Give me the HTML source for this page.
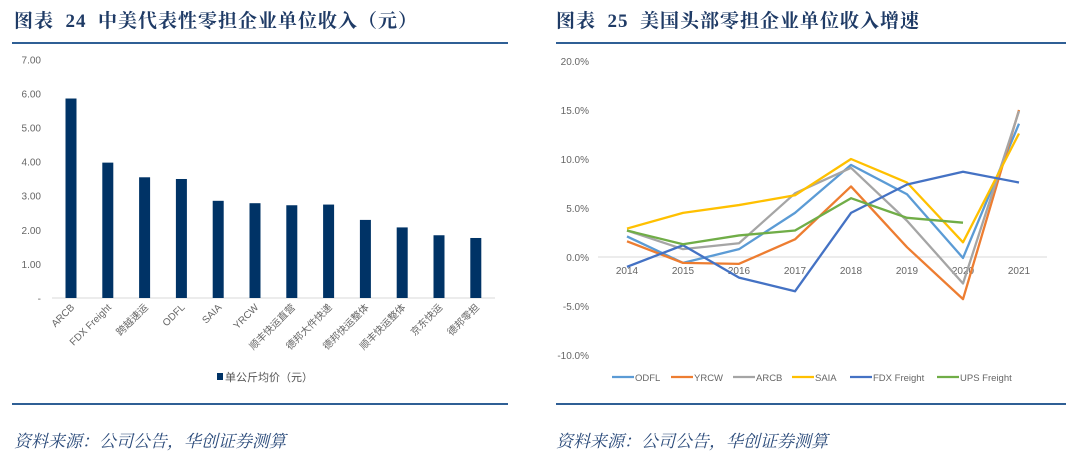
<!DOCTYPE html>
<html><head><meta charset="utf-8">
<style>
html,body{margin:0;padding:0;background:#fff;}
body{width:1080px;height:458px;overflow:hidden;position:relative;font-family:"Liberation Sans","Noto Sans CJK SC",sans-serif;}
.title{position:absolute;top:6px;font-family:"Liberation Serif","Noto Serif CJK SC",serif;font-weight:bold;font-size:19px;color:#1f3b66;white-space:pre;letter-spacing:1px;}
.rule{position:absolute;height:2px;background:#2f5f95;}
.src{position:absolute;top:427px;font-family:"Liberation Serif","Noto Serif CJK SC",serif;font-style:italic;font-size:17px;color:#2a4a7a;white-space:nowrap;}
svg{position:absolute;left:0;top:0;}
</style></head><body>
<div class="title" style="left:14px">图表  24  中美代表性零担企业单位收入（元）</div>
<div class="title" style="left:556px">图表  25  美国头部零担企业单位收入增速</div>
<div class="rule" style="left:12px;width:496px;top:42px"></div>
<div class="rule" style="left:556px;width:510px;top:42px"></div>
<div class="rule" style="left:12px;width:496px;top:403px"></div>
<div class="rule" style="left:556px;width:510px;top:403px"></div>
<div class="src" style="left:14px">资料来源：公司公告，华创证券测算</div>
<div class="src" style="left:556px">资料来源：公司公告，华创证券测算</div>
<svg id="chart" width="1080" height="458"></svg>
<script>
const barCats=["ARCB","FDX Freight","跨越速运","ODFL","SAIA","YRCW","顺丰快运直营","德邦大件快递","德邦快运整体","顺丰快运整体","京东快运","德邦零担"];
const barVals=[5.85,3.97,3.54,3.49,2.85,2.78,2.72,2.74,2.29,2.07,1.84,1.76];
const barTicks=["-","1.00","2.00","3.00","4.00","5.00","6.00","7.00"];
const years=["2014","2015","2016","2017","2018","2019","2020","2021"];
const odfl=[2.1,-0.6,0.8,4.5,9.4,6.4,-0.1,13.6];
const yrcw=[1.6,-0.6,-0.7,1.8,7.2,1.0,-4.3,15.0];
const arcb=[2.7,0.8,1.4,6.5,9.1,3.7,-2.7,14.9];
const saia=[2.9,4.5,5.3,6.3,10.0,7.6,1.5,12.6];
const fdx=[-1.0,1.2,-2.1,-3.5,4.5,7.4,8.7,7.6];
const ups=[2.7,1.3,2.2,2.7,6.0,4.0,3.5,null];
const lineNames=["ODFL","YRCW","ARCB","SAIA","FDX Freight","UPS Freight"];
const pctTicks=[-10,-5,0,5,10,15,20];

const NS="http://www.w3.org/2000/svg";
const svg=document.getElementById("chart");
function mk(tag,attrs,parent){const e=document.createElementNS(NS,tag);for(const k in attrs)e.setAttribute(k,attrs[k]);(parent||svg).appendChild(e);return e;}

const by=v=>298-v*34.1;
const bx=i=>71+i*36.8;
barTicks.forEach((t,i)=>{
  const tx=mk("text",{x:41,y:by(i)+4,"text-anchor":"end","font-size":"10","fill":"#666"});
  
  
  tx.textContent=t;
});
const ax=mk("line",{x1:52,x2:495,y1:298,y2:298,stroke:"#d9d9d9","stroke-width":1});


barVals.forEach((v,i)=>{
  const r=mk("rect",{x:bx(i)-5.5,y:by(v),width:11,height:298-by(v),fill:"#003366"});
  
  
  const tx=mk("text",{x:0,y:0,"text-anchor":"end","font-size":"10","fill":"#666",transform:`translate(${bx(i)+4},${308}) rotate(-45)`});
  
  
  tx.textContent=barCats[i];
});
const lsq=mk("rect",{x:217,y:373,width:6,height:7,fill:"#003366"});


const ltx=mk("text",{x:225,y:381,"font-size":"11","fill":"#555"});


ltx.textContent="单公斤均价（元）";

const ly=v=>257-v*9.8;
const lx=i=>627+i*56;
pctTicks.forEach(t=>{
  const tx=mk("text",{x:589,y:ly(t)+4,"text-anchor":"end","font-size":"10","fill":"#666"});
  
  
  tx.textContent=t.toFixed(1)+"%";
});
const zl=mk("line",{x1:598,x2:1047,y1:ly(0),y2:ly(0),stroke:"#d9d9d9","stroke-width":1});


years.forEach((y,i)=>{
  const tx=mk("text",{x:lx(i),y:274,"text-anchor":"middle","font-size":"10","fill":"#666"});
  
  
  tx.textContent=y;
});
const series=[odfl,yrcw,arcb,saia,fdx,ups];
const colors=["#5b9bd5","#ed7d31","#a5a5a5","#ffc000","#4472c4","#70ad47"];
series.forEach((s,k)=>{
  let d="";
  s.forEach((v,i)=>{if(v===null)return;d+=(d?"L":"M")+lx(i)+","+ly(v);});
  const p=mk("path",{d:d,fill:"none",stroke:colors[k],"stroke-width":2.3,"stroke-linejoin":"round"});
  
  
});
const legX=[612,671,733,792,850,937];
lineNames.forEach((n,k)=>{
  const g=mk("g",{});
  
  
  mk("line",{x1:legX[k],x2:legX[k]+22,y1:377,y2:377,stroke:colors[k],"stroke-width":2.3},g);
  const tx=mk("text",{x:legX[k]+23,y:381,"font-size":"9.5","fill":"#666"},g);
  tx.textContent=n;
});
</script>
</body></html>
